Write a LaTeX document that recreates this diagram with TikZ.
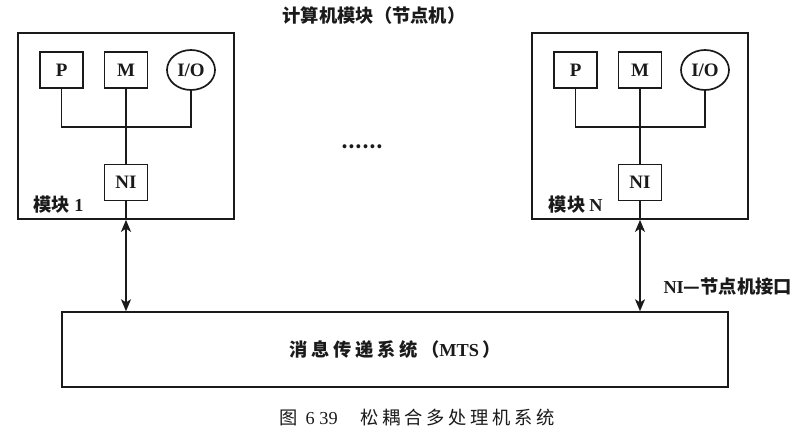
\documentclass[tikz,border=0pt]{standalone}
\usepackage{fontspec}
\setmainfont{Liberation Serif}
\newfontfamily\cjk{Noto Sans CJK SC}
\newfontfamily\cjkwide{Noto Sans CJK SC}[LetterSpace=20]
\usetikzlibrary{arrows.meta,shapes.geometric}
\definecolor{ink}{HTML}{1A1A1A}

\begin{document}
\begin{tikzpicture}[line width=1.2pt, color=ink,
    every node/.style={font=\fontsize{13}{15}\selectfont},
    unit/.style={draw, minimum width=1.075cm, minimum height=0.9cm, font=\fontsize{13.5}{15}\selectfont\bfseries},
    iounit/.style={draw, ellipse, minimum width=1.2cm, minimum height=1.0cm, inner sep=0pt, font=\fontsize{13.5}{15}\selectfont\bfseries},
    frame/.style={draw, minimum width=5.4cm, minimum height=4.65cm},
    link/.style={{Stealth[length=0.3cm,width=0.25cm,inset=0.08cm]}-{Stealth[length=0.3cm,width=0.25cm,inset=0.08cm]}}]
  \useasboundingbox (0,0) rectangle (20.3,11.05);
  \node (title) at (9.35,10.65) {\cjk\bfseries 计算机模块（节点机）};
  \node[frame] (mod1) at (3.15,7.9) {};
  \node[frame] (modN) at (16.0,7.9) {};
  \node[unit] (P1) at (1.54,9.3) {P};
  \node[unit] (M1) at (3.15,9.3) {M};
  \node[iounit] (IO1) at (4.775,9.3) {I/O};
  \node[unit] (NI1) at (3.15,6.49) {NI};
  \coordinate (bus1) at (3.15,7.875);
  \node[unit] (PN) at (14.39,9.3) {P};
  \node[unit] (MN) at (16.0,9.3) {M};
  \node[iounit] (ION) at (17.625,9.3) {I/O};
  \node[unit] (NIN) at (16.0,6.49) {NI};
  \coordinate (busN) at (16.0,7.875);
  \draw (P1.south) |- (bus1) -| (IO1.south);
  \draw (M1.south) -- (NI1.north);
  \draw (PN.south) |- (busN) -| (ION.south);
  \draw (MN.south) -- (NIN.north);
  \node[anchor=west] (lab1) at (0.7,5.93) {\cjk\bfseries 模块\ \rmfamily 1};
  \node[anchor=west] (labN) at (13.58,5.93) {\cjk\bfseries 模块\ \rmfamily N};
  \node (dots) at (9.05,7.375) {\cjk\bfseries ……};
  \node[draw, minimum width=16.65cm, minimum height=1.875cm] (mts) at (9.875,2.31)
        {\cjkwide\bfseries 消息传递系统（\rmfamily MTS\,\cjkwide ）};
  \draw (NI1.south) -- (NI1 |- mod1.south);
  \draw (NIN.south) -- (NIN |- modN.south);
  \draw[link] (NI1 |- mod1.south) -- (NI1 |- mts.north);
  \draw[link] (NIN |- modN.south) -- (NIN |- mts.north);
  \node[anchor=west] (nilab) at (16.45,3.875) {\bfseries NI\cjk —节点机接口};
  \node (cap) at (10.425,0.62) {\cjkwide 图\ \rmfamily 6\ 39\quad\ \cjkwide 松耦合多处理机系统};
\end{tikzpicture}
\end{document}
